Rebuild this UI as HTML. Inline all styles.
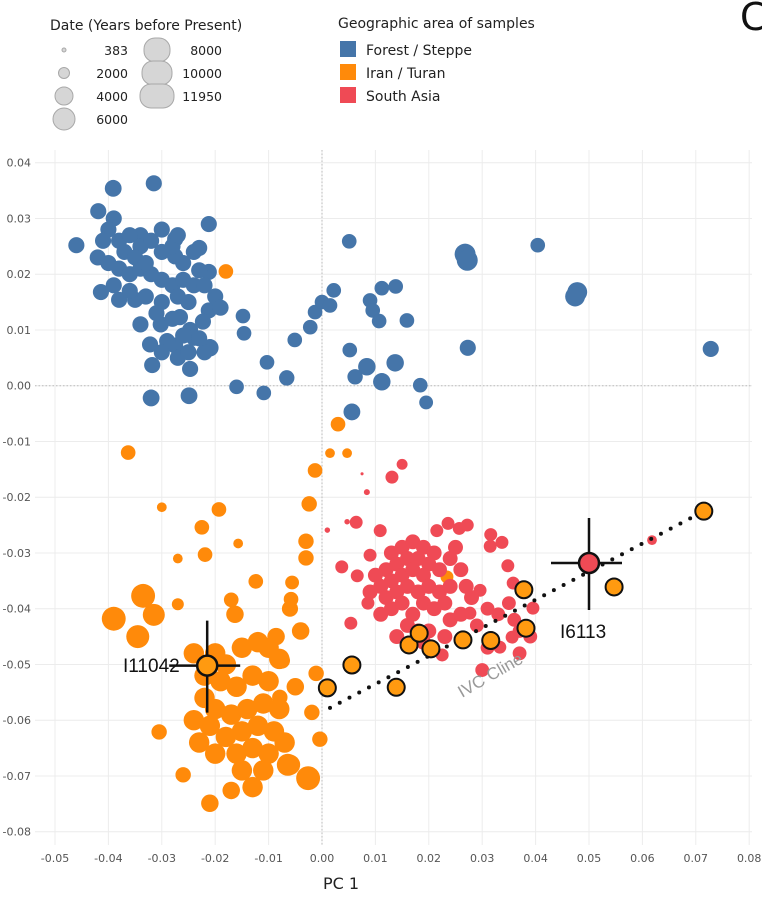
<!DOCTYPE html>
<html><head><meta charset="utf-8"><style>
body{margin:0;background:#fff;}
svg{display:block;font-family:"DejaVu Sans","Liberation Sans",sans-serif;}
</style></head><body>
<svg id="chart" width="762" height="897" viewBox="0 0 762 897"></svg>
<script>
const blueX=[-0.0391,-0.0315,-0.0419,-0.039,-0.046,-0.0212,-0.0212,-0.023,-0.0275,-0.034,-0.0275,-0.023,-0.0414,-0.038,-0.035,-0.0212,-0.034,-0.0302,-0.0266,-0.0247,-0.0223,-0.0322,-0.0275,-0.021,-0.024,-0.0318,-0.0247,-0.032,-0.0249,
-0.04,-0.038,-0.036,-0.034,-0.032,-0.03,-0.028,-0.026,-0.042,-0.04,-0.038,-0.036,-0.034,-0.032,-0.03,-0.028,-0.026,-0.024,-0.039,-0.036,-0.033,-0.03,-0.027,-0.025,-0.031,-0.028,-0.026,-0.029,-0.03,-0.027,-0.025,-0.022,-0.023,-0.037,-0.035,-0.033,-0.041,-0.03,-0.027,-0.024,-0.022,-0.02,-0.019,
-0.0148,-0.0146,-0.0103,-0.016,-0.0109,-0.0066,-0.0051,-0.0022,-0.0013,0,0.0015,0.0022,0.0051,0.0052,0.0062,0.0056,0.0084,0.009,0.0095,0.0112,0.0138,0.0107,0.0112,0.0137,0.0159,0.0184,0.0195,0.0268,0.0272,0.0273,0.0404,0.0478,0.0474,0.0728];
const blueY=[0.0354,0.0363,0.0313,0.030,0.0252,0.029,0.0204,0.0247,0.0263,0.027,0.0232,0.0207,0.0168,0.0154,0.0154,0.0135,0.011,0.011,0.0123,0.010,0.0115,0.0074,0.0072,0.0068,0.0086,0.0037,0.003,-0.0022,-0.0018,
0.028,0.026,0.027,0.025,0.026,0.024,0.025,0.022,0.023,0.022,0.021,0.02,0.021,0.02,0.019,0.018,0.019,0.018,0.018,0.017,0.016,0.015,0.016,0.015,0.013,0.012,0.009,0.008,0.006,0.005,0.006,0.006,0.0085,0.024,0.023,0.022,0.026,0.028,0.027,0.024,0.018,0.016,0.014,
0.0125,0.0094,0.0042,-0.0002,-0.0013,0.0014,0.0082,0.0105,0.0132,0.015,0.0144,0.0171,0.0259,0.0064,0.0016,-0.0047,0.0034,0.0153,0.0135,0.0175,0.0178,0.0116,0.0007,0.0041,0.0117,0.0001,-0.003,0.0236,0.0225,0.0068,0.0252,0.0168,0.016,0.0066];
const blueDate=[5500,5000,5000,5000,5000,5000,5000,5000,5000,5000,5000,5000,5000,5000,5000,5000,5000,5000,5000,5000,5000,5000,5000,6000,5000,5000,5000,5500,5500,
5000,5000,5000,5000,5000,5000,5000,5000,5000,5000,5000,5000,5000,5000,5000,5000,5000,5000,5000,5000,5000,5000,5000,5000,5000,5000,5000,5000,5000,5000,5000,5000,5000,5000,5000,5000,5000,5000,5000,5000,5000,5000,5000,
4000,4000,4000,4000,4000,4500,4000,4000,4000,4000,4000,4000,4000,4000,4500,5500,6000,4000,4000,4000,4000,4000,6000,6000,4000,4000,3500,9000,9000,5000,4000,8000,8000,5000];

const orX=[-0.018,-0.0363,0.003,-0.03,-0.0193,-0.0225,-0.0157,-0.027,-0.0219,-0.0124,-0.017,-0.027,-0.0335,-0.0315,-0.039,-0.0345,-0.0163,-0.0086,-0.0056,-0.0075,-0.0079,-0.0004,-0.0011,-0.0019,-0.0305,-0.026,-0.021,-0.017,-0.0026,-0.0064,
-0.02,-0.018,-0.015,-0.012,-0.01,-0.008,-0.024,-0.019,-0.016,-0.013,-0.01,-0.022,-0.02,-0.017,-0.014,-0.011,-0.008,-0.021,-0.018,-0.015,-0.012,-0.009,-0.016,-0.013,-0.01,-0.007,-0.02,-0.023,-0.015,-0.011,-0.006,-0.013,-0.022,-0.024,-0.005,-0.004,-0.006,
-0.0024,-0.003,-0.003,-0.0058,-0.0013,0.0015,0.0047,0.0234];
const orY=[0.0205,-0.012,-0.0069,-0.0218,-0.0222,-0.0254,-0.0283,-0.031,-0.0303,-0.0351,-0.0384,-0.0392,-0.0377,-0.0411,-0.0418,-0.045,-0.041,-0.045,-0.0353,-0.0493,-0.0559,-0.0634,-0.0516,-0.0586,-0.0621,-0.0698,-0.0749,-0.0726,-0.0704,-0.068,
-0.048,-0.05,-0.047,-0.046,-0.047,-0.049,-0.048,-0.053,-0.054,-0.052,-0.053,-0.056,-0.058,-0.059,-0.058,-0.057,-0.058,-0.061,-0.063,-0.062,-0.061,-0.062,-0.066,-0.065,-0.066,-0.064,-0.066,-0.064,-0.069,-0.069,-0.068,-0.072,-0.052,-0.06,-0.054,-0.044,-0.04,
-0.0212,-0.0279,-0.0309,-0.0383,-0.0152,-0.0121,-0.0121,-0.0343];
const orDate=[4000,4000,4000,1500,4000,4000,1500,1500,4000,4000,4000,2500,12000,10000,12000,11000,6000,6000,3500,5000,4500,4500,4500,4500,4500,4500,6000,6000,12000,10000,
8500,8500,8500,8500,8500,8500,8500,8500,8500,8500,8500,8500,8500,8500,8500,8500,8500,8500,8500,8500,8500,8500,8500,8500,8500,8500,8500,8500,8500,8500,8500,8500,8500,8500,6000,6000,5000,
4500,4500,4500,4000,4000,1500,1500,3000];

const redX=[0.015,0.0131,0.0075,0.0084,0.0064,0.0047,0.001,0.0109,0.0215,0.0236,0.0257,0.0272,0.0316,0.0337,0.0315,0.009,0.0037,0.0066,0.0348,0.0086,0.0054,0.0358,0.0395,0.0356,0.0333,0.0225,0.0277,0.0296,0.0618,
0.013,0.015,0.017,0.019,0.014,0.016,0.018,0.02,0.012,0.013,0.015,0.017,0.019,0.021,0.022,0.024,0.026,0.025,0.011,0.012,0.014,0.016,0.018,0.02,0.022,0.024,0.027,0.028,0.013,0.015,0.017,0.019,0.021,0.023,0.01,0.009,0.011,0.016,0.018,0.014,0.02,0.024,0.026,0.029,0.031,0.033,0.035,0.036,0.037,0.039,0.037,0.031,0.03,0.019,0.023];
const redY=[-0.0141,-0.0164,-0.0158,-0.0191,-0.0245,-0.0244,-0.0259,-0.026,-0.026,-0.0247,-0.0256,-0.025,-0.0267,-0.0281,-0.0288,-0.0304,-0.0325,-0.0341,-0.0323,-0.039,-0.0426,-0.0354,-0.0399,-0.0451,-0.0469,-0.0483,-0.0408,-0.0367,-0.0277,
-0.03,-0.029,-0.028,-0.029,-0.032,-0.031,-0.031,-0.032,-0.033,-0.035,-0.034,-0.033,-0.034,-0.03,-0.033,-0.031,-0.033,-0.029,-0.036,-0.038,-0.037,-0.036,-0.037,-0.036,-0.037,-0.036,-0.036,-0.038,-0.04,-0.039,-0.041,-0.039,-0.04,-0.039,-0.034,-0.037,-0.041,-0.043,-0.044,-0.045,-0.044,-0.042,-0.041,-0.043,-0.04,-0.041,-0.039,-0.042,-0.044,-0.045,-0.048,-0.047,-0.051,-0.046,-0.045];
const redDate=[2000,3000,30,400,3000,300,300,3000,3000,3000,3000,3000,3000,3000,3000,3000,3000,3000,3000,3000,3000,3000,3000,3000,3000,3000,3000,3000,1500,
4200,4200,4200,4200,4200,4200,4200,4200,4200,4200,4200,4200,4200,4200,4200,4200,4200,4200,4200,4200,4200,4200,4200,4200,4200,4200,4200,4200,4200,4200,4200,4200,4200,4200,4200,4200,4200,4200,4200,4200,4200,4200,4200,3500,3500,3500,3500,3500,3500,3500,3500,3500,3500,4200,4200];

const hlX=[0.001,0.0056,0.0139,0.0163,0.0182,0.0204,0.0264,0.0316,0.0378,0.0382,0.0547,0.0715];
const hlY=[-0.0542,-0.0501,-0.0541,-0.0465,-0.0444,-0.0472,-0.0456,-0.0457,-0.0366,-0.0435,-0.0361,-0.0225];
const xTicks=[-0.05,-0.04,-0.03,-0.02,-0.01,0,0.01,0.02,0.03,0.04,0.05,0.06,0.07,0.08];
const yTicks=[0.04,0.03,0.02,0.01,0,-0.01,-0.02,-0.03,-0.04,-0.05,-0.06,-0.07,-0.08];
const clineX=[0.0015,0.0715], clineY=[-0.0578,-0.0225];

const X=v=>322+v*5340, Y=v=>385.7-v*5575, R=d=>1+Math.sqrt(d)*0.1;
const svg=document.getElementById('chart'), NS='http://www.w3.org/2000/svg';
function mk(tag,at,parent){const e=document.createElementNS(NS,tag);for(const k in at)e.setAttribute(k,at[k]);(parent||svg).appendChild(e);return e;}
xTicks.forEach((t,i)=>{
  const l=mk('line',{x1:X(t),x2:X(t),y1:150,y2:845,stroke:'#ececec','stroke-width':1});
  
  
  const tx=mk('text',{x:X(t),y:862,'text-anchor':'middle','font-size':11,fill:'#555'});
  tx.textContent=t.toFixed(2);
  
  
});
yTicks.forEach(t=>{
  const l=mk('line',{x1:35,x2:752,y1:Y(t),y2:Y(t),stroke:'#ececec','stroke-width':1});
  
  
  const tx=mk('text',{x:31,y:Y(t)+4,'text-anchor':'end','font-size':11,fill:'#555'});
  tx.textContent=t.toFixed(2);
  
  
});
const z1=mk('line',{x1:X(0),x2:X(0),y1:150,y2:845,stroke:'#bbb','stroke-dasharray':'1.5,2'});


const z2=mk('line',{x1:35,x2:752,y1:Y(0),y2:Y(0),stroke:'#bbb','stroke-dasharray':'1.5,2'});


function pts(xs,ys,ds,col,name){xs.forEach((v,i)=>{
  const c=mk('circle',{cx:X(v),cy:Y(ys[i]),r:R(ds[i]),fill:col});
  
  
});}
pts(blueX,blueY,blueDate,'#4575a9','forest-steppe-point');
pts(orX,orY,orDate,'#ff8a0a','iran-turan-point');
pts(redX,redY,redDate,'#ef4a55','south-asia-point');
const cl=mk('line',{x1:X(clineX[0]),y1:Y(clineY[0]),x2:X(clineX[1]),y2:Y(clineY[1]),stroke:'#111','stroke-width':4,'stroke-dasharray':'0,11','stroke-linecap':'round'});


hlX.forEach((v,i)=>{
  const c=mk('circle',{cx:X(v),cy:Y(hlY[i]),r:8.5,fill:'#ff9a10',stroke:'#111','stroke-width':2});
  
  
});
function cross(x,y,col,name){
  const g=mk('g',{});
  
  
  mk('line',{x1:X(x)-38,x2:X(x)+33,y1:Y(y),y2:Y(y),stroke:'#111','stroke-width':2.5},g);
  mk('line',{x1:X(x),x2:X(x),y1:Y(y)-45,y2:Y(y)+47,stroke:'#111','stroke-width':2.5},g);
  mk('circle',{cx:X(x),cy:Y(y),r:10,fill:col,stroke:'#111','stroke-width':2.5},g);
}
cross(-0.0215,-0.0502,'#ff9a10','i11042-marker');
cross(0.05,-0.0318,'#ef4a55','i6113-marker');
</script>
<svg width="762" height="897" style="position:absolute;left:0;top:0">
<g font-family="Liberation Sans, sans-serif">
<text x="123" y="672" font-size="19" fill="#111">I11042</text>
<text x="560" y="638" font-size="19" fill="#111">I6113</text>
<text x="0" y="0" font-size="17" fill="#999" transform="translate(462,698) rotate(-30)">IVC Cline</text>
</g>
<g font-family="DejaVu Sans, sans-serif">
<text x="50" y="30" font-size="14" fill="#222">Date (Years before Present)</text>
<g fill="#d6d6d6" stroke="#a8a8a8" stroke-width="1">
<circle cx="64" cy="50" r="2"/>
<circle cx="64" cy="73" r="5.5"/>
<circle cx="64" cy="96" r="9"/>
<circle cx="64" cy="119" r="11"/>
<rect x="144" y="38" width="26" height="24" rx="11"/>
<rect x="142" y="61" width="30" height="24" rx="11"/>
<rect x="140" y="84" width="34" height="24" rx="11"/>
</g>
<g font-size="12.5" fill="#222" text-anchor="end">
<text x="128" y="55">383</text><text x="128" y="78">2000</text><text x="128" y="101">4000</text><text x="128" y="124">6000</text>
<text x="222" y="55">8000</text><text x="222" y="78">10000</text><text x="222" y="101">11950</text>
</g>
</g>
<g font-family="DejaVu Sans, sans-serif">
<text x="338" y="28" font-size="14" fill="#222">Geographic area of samples</text>
<rect x="340" y="41" width="16" height="16" fill="#4575a9"/>
<rect x="340" y="64" width="16" height="16" fill="#ff8a0a"/>
<rect x="340" y="87" width="16" height="16" fill="#ef4a55"/>
<g font-size="14" fill="#222"><text x="366" y="55">Forest / Steppe</text><text x="366" y="78">Iran / Turan</text><text x="366" y="101">South Asia</text></g>
</g>
<text x="740" y="30" font-size="38" font-family="DejaVu Sans, sans-serif" fill="#111">C</text>
<text x="341" y="889" font-size="16" text-anchor="middle" font-family="DejaVu Sans, sans-serif" fill="#222">PC 1</text>
</svg>
</body></html>
